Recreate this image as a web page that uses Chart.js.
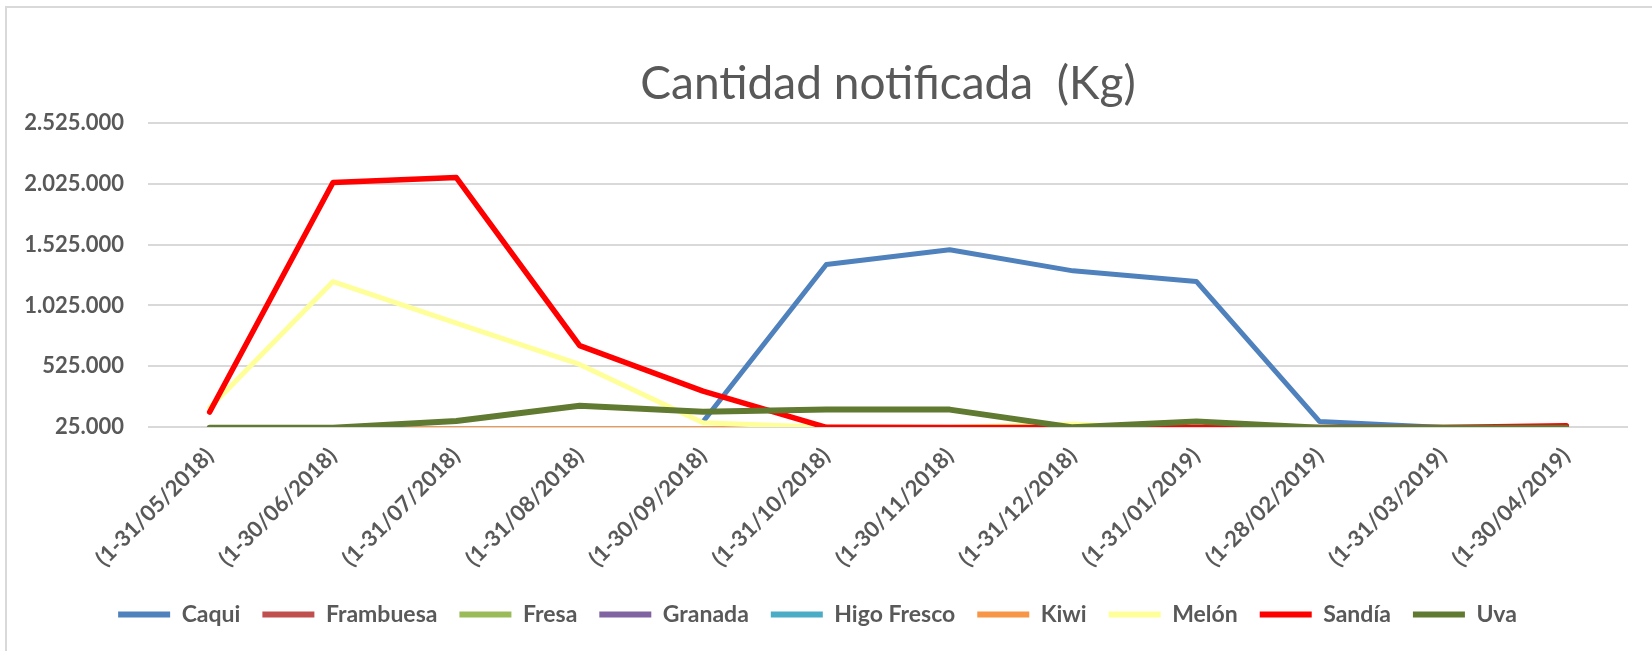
<!DOCTYPE html>
<html>
<head>
<meta charset="utf-8">
<script src="https://cdn.jsdelivr.net/npm/chart.js@4.4.1/dist/chart.umd.min.js"></script>
<style>
  body { margin: 0; background: #fff; }
  #wrap { position: relative; width: 1652px; height: 651px; overflow: hidden; }
  #frame { position: absolute; left: 5px; top: 6px; width: 1700px; height: 700px;
           border-left: 2px solid #d9d9d9; border-top: 2px solid #d9d9d9; }
  canvas { position: absolute; left: 0; top: 0; }
</style>
</head>
<body>
<div id="wrap">
  <div id="frame"></div>
  <canvas id="chart" width="1652" height="651"></canvas>
</div>
<script>
const months = [
  '(1-31/05/2018)', '(1-30/06/2018)', '(1-31/07/2018)', '(1-31/08/2018)',
  '(1-30/09/2018)', '(1-31/10/2018)', '(1-30/11/2018)', '(1-31/12/2018)',
  '(1-31/01/2019)', '(1-28/02/2019)', '(1-31/03/2019)', '(1-30/04/2019)',
];

// kg por mes
const caqui = [null, null, null, null, 68000, 1362000, 1484000, 1310000, 1223000, 70000, 20000, 15000];
const frambuesa = [0, 0, 0, 0, 0, 0, 0, 0, 0, 0, 0, 0];
const fresa = [0, 0, 0, 0, 0, 0, 0, 0, 0, 0, 0, 0];
const granada = [0, 0, 0, 0, 0, 30000, 15000, 0, 0, 0, 0, 0];
const higoFresco = [0, 0, 0, 0, 0, 0, 0, 0, 0, 0, 0, 0];
const kiwi = [20000, 20000, 20000, 20000, 20000, 20000, 20000, 20000, 20000, 20000, 20000, 20000];
const melon = [184000, 1222000, 880000, 540000, 60000, 22000, 22000, 50000, 0, 0, 0, 0];
const sandia = [148000, 2037000, 2078000, 694000, 320000, 22000, 20000, 20000, 20000, 20000, 20000, 35000];
const uva = [18000, 18000, 75000, 200000, 150000, 170000, 168000, 22000, 70000, 18000, 18000, 18000];

const yMin = 25000;
const yMax = 2525000;
const yStep = 500000;

const series = [
  { label: 'Caqui', data: caqui, color: '#4f81bd', width: 5 },
  { label: 'Frambuesa', data: frambuesa, color: '#c0504d', width: 3 },
  { label: 'Fresa', data: fresa, color: '#9bbb59', width: 3 },
  { label: 'Granada', data: granada, color: '#8064a2', width: 3 },
  { label: 'Higo Fresco', data: higoFresco, color: '#4bacc6', width: 3 },
  { label: 'Kiwi', data: kiwi, color: '#f79646', width: 3 },
  { label: 'Melón', data: melon, color: '#ffff99', width: 5 },
  { label: 'Sandía', data: sandia, color: '#ff0000', width: 5.5 },
  { label: 'Uva', data: uva, color: '#617a32', width: 6 },
];

function miles(v) {
  return String(v).replace(/\B(?=(\d{3})+(?!\d))/g, '.');
}

Chart.defaults.font.family = 'Lato';
Chart.defaults.color = '#595959';

new Chart(document.getElementById('chart'), {
  type: 'line',
  data: {
    labels: months,
    datasets: series.map((s, i) => ({
      label: s.label,
      data: s.data,
      borderColor: s.color,
      backgroundColor: s.color,
      borderWidth: s.width,
      pointRadius: 0,
      tension: 0,
      borderJoinStyle: 'round',
      borderCapStyle: 'round',
      order: series.length - i, // las últimas series quedan encima, como en Excel
    })),
  },
  options: {
    responsive: false,
    animation: false,
    layout: { padding: { left: 0, right: 17, top: 0, bottom: 15 } },
    plugins: {
      title: {
        display: true,
        fullSize: false,
        text: 'Cantidad notificada  (Kg)',
        color: '#595959',
        font: { size: 46, weight: 'normal' },
        padding: { top: 57, bottom: 11 },
      },
      legend: {
        position: 'bottom',
        labels: {
          boxWidth: 52,
          boxHeight: 6,
          padding: 22,
          color: '#595959',
          font: { size: 23, weight: 'bold' },
          sort: (a, b) => a.datasetIndex - b.datasetIndex,
          generateLabels: chart => Chart.defaults.plugins.legend.labels.generateLabels(chart)
            .map(l => ({ ...l, fillStyle: l.strokeStyle, lineWidth: 0 })),
        },
      },
      tooltip: { enabled: false },
    },
    scales: {
      x: {
        offset: true,
        grid: { display: false },
        border: { display: false },
        ticks: {
          autoSkip: false,
          minRotation: 45,
          maxRotation: 45,
          padding: 8,
          color: '#595959',
          font: { size: 22, weight: 'bold' },
        },
        afterFit: scale => { scale.height = 154; },
      },
      y: {
        min: yMin,
        max: yMax,
        border: { display: false },
        grid: { color: '#d9d9d9', lineWidth: 2, drawTicks: false },
        ticks: {
          stepSize: yStep,
          padding: 24,
          color: '#595959',
          font: { size: 22, weight: 'bold' },
          callback: v => miles(v),
        },
        afterFit: scale => { scale.width = 148; },
      },
      // margen derecho del área de trazado
      margen: {
        position: 'right',
        display: true,
        grid: { display: false },
        border: { display: false },
        ticks: { display: false },
        afterFit: scale => { scale.width = 7; },
      },
    },
  },
});
</script>
</body>
</html>
